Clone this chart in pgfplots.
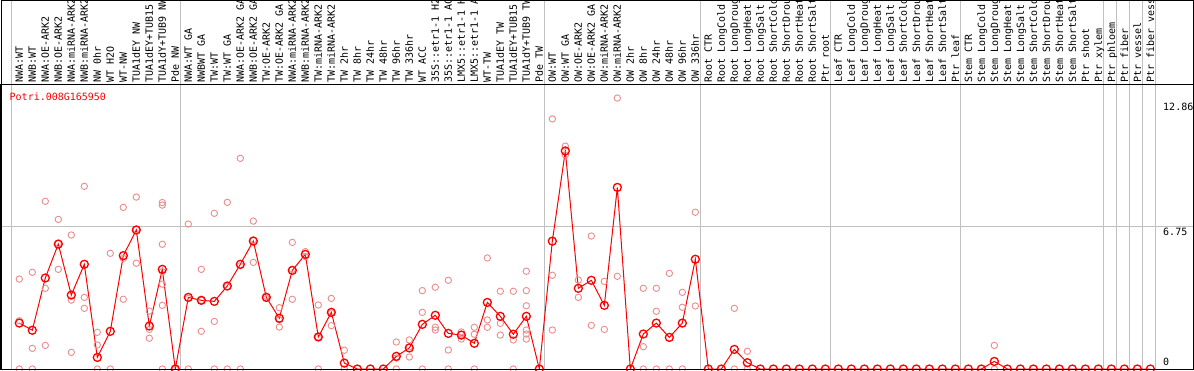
\documentclass[border=0pt]{standalone}
\usepackage{fontspec}
\usepackage{pgfplots}
\pgfplotsset{compat=1.18}
\newfontfamily\mono{DejaVu Sans Mono}
\definecolor{sepgray}{RGB}{192,192,192}
\definecolor{repc}{RGB}{234,140,140}
\definecolor{meanc}{RGB}{255,0,0}
\begin{document}
\begin{tikzpicture}[x=1pt,y=1pt]
\useasboundingbox (0,0) rectangle (1194,370);
% group separators (decorative, full height)
\foreach \k in {-1,12,40,52,62,72,83,84,85,86,87}{
  \draw[sepgray, line width=1pt] ({19.3+13.0*(\k+0.41)},1) -- ({19.3+13.0*(\k+0.41)},370);
}
\begin{axis}[
  at={(1pt,1pt)}, anchor=south west,
  width=1192pt, height=284pt, scale only axis,
  xmin=-1.408, xmax=90.28, ymin=0, ymax=13.48,
  axis line style={black, line width=1pt},
  xtick={0,...,87},
  xticklabel pos=upper,
  major tick length=0pt,
  xticklabels={{NWA:WT},{NWB:WT},{NWA:OE-ARK2},{NWB:OE-ARK2},{NWA:miRNA-ARK2},{NWB:miRNA-ARK2},{NW 0hr},{WT H2O},{WT-NW},{TUA1dEY NW},{TUA1dEY+TUB15},{TUA1dY+TUB9 NW},{Pde NW},
    {NWA:WT GA},{NWBWT GA},{TW:WT},{TW:WT GA},{NWA:OE-ARK2 GA},{NWB:OE-ARK2 GA},{TW:OE-ARK2},{TW:OE-ARK2 GA},{NWA:miRNA-ARK2},{NWB:miRNA-ARK2},{TW:miRNA-ARK2},{TW:miRNA-ARK2},{TW 2hr},{TW 8hr},{TW 24hr},{TW 48hr},{TW 96hr},{TW 336hr},{WT ACC},{35S::etr1-1 H2},{35S::etr1-1 AC},{LMX5::etr1-1 H},{LMX5::etr1-1 A},{WT-TW},{TUA1dEY TW},{TUA1dEY+TUB15},{TUA1dY+TUB9 TW},{Pde TW},
    {OW:WT},{OW:WT GA},{OW:OE-ARK2},{OW:OE-ARK2 GA},{OW:miRNA-ARK2},{OW:miRNA-ARK2},{OW 2hr},{OW 8hr},{OW 24hr},{OW 48hr},{OW 96hr},{OW 336hr},
    {Root CTR},{Root LongCold},{Root LongDroug},{Root LongHeat},{Root LongSalt},{Root ShortCold},{Root ShortDrou},{Root ShortHeat},{Root ShortSalt},{Ptr root},
    {Leaf CTR},{Leaf LongCold},{Leaf LongDroug},{Leaf LongHeat},{Leaf LongSalt},{Leaf ShortCold},{Leaf ShortDrou},{Leaf ShortHeat},{Leaf ShortSalt},{Ptr leaf},
    {Stem CTR},{Stem LongCold},{Stem LongDroug},{Stem LongHeat},{Stem LongSalt},{Stem ShortCold},{Stem ShortDrou},{Stem ShortHeat},{Stem ShortSalt},{Ptr shoot},
    {Ptr xylem},{Ptr phloem},{Ptr fiber},{Ptr vessel},{Ptr fiber vess}},
  xticklabel style={font=\mono\fontsize{10}{12}\selectfont, rotate=90, anchor=west, inner sep=0pt, text height=7.3pt, text depth=0pt, xshift=2pt},
  ytick={6.75}, yticklabels={},
  ymajorgrids, grid style={sepgray, line width=1pt},
]
\addplot[only marks, mark=o, mark size=3.2pt, color=repc, line width=0.9pt] table {
x y
0 4.27
0 2.29
0 0
1 4.59
1 0.98
1 0
2 7.96
2 3.83
2 1.12
3 7.10
3 4.73
3 5.96
4 6.36
4 3.27
4 0.79
5 8.67
5 3.40
5 2.88
6 1.74
6 1.14
6 0
7 5.49
7 0
8 7.67
8 5.25
8 3.31
9 8.16
9 5.02
9 6.62
10 2.75
10 1.88
10 1.46
11 7.90
11 7.78
11 5.92
11 4.62
11 4.03
11 3.02
11 0
12 0
13 6.88
13 3.35
13 0
14 4.73
14 1.79
14 3.26
15 7.39
15 2.26
15 0
16 7.91
16 3.91
16 0
17 10.00
17 4.90
17 0
18 7.02
18 5.06
18 6.13
19 3.45
19 3.35
20 2.91
20 1.99
20 2.33
21 6.01
21 3.31
21 4.72
22 5.57
22 5.33
23 3.04
23 0
23 1.52
24 3.35
24 2.06
24 2.66
25 0.89
25 0
29 1.28
29 0
29 0.52
30 1.38
30 0.57
30 1.05
31 3.72
31 2.69
31 0
32 3.88
32 1.98
32 1.85
33 4.21
33 0.90
33 0
34 1.76
34 1.42
34 1.65
35 1.98
35 1.65
35 0
36 5.27
36 2.33
36 1.98
37 3.69
37 2.17
37 1.61
38 3.69
38 1.38
38 0
39 4.64
39 3.72
39 3.00
39 1.85
39 1.66
39 1.42
41 11.87
41 4.45
41 1.85
42 10.58
42 10.16
43 4.22
43 3.40
44 6.31
44 2.07
45 4.16
45 1.88
46 12.86
46 4.40
48 3.83
48 1.06
48 0
49 3.83
49 2.74
49 0
50 4.54
50 0
51 3.64
51 2.93
51 0
52 7.44
52 2.99
55 2.88
55 0
56 0.84
56 0
75 1.12
75 0
};
\addplot[color=meanc, line width=1pt, mark=o, mark size=4pt, mark options={line width=1.3pt, fill=none}] table {
x y
0 2.18
1 1.84
2 4.32
3 5.93
4 3.51
5 4.97
6 0.55
7 1.79
8 5.38
9 6.60
10 2.04
11 4.73
12 0
13 3.40
14 3.26
15 3.21
16 3.94
17 4.97
18 6.07
19 3.40
20 2.41
21 4.68
22 5.44
23 1.52
24 2.69
25 0.28
26 0
27 0
28 0
29 0.60
30 1.00
31 2.12
32 2.55
33 1.69
34 1.61
35 1.22
36 3.16
37 2.50
38 1.65
39 2.50
40 0
41 6.07
42 10.35
43 3.83
44 4.21
45 3.02
46 8.62
47 0
48 1.66
49 2.18
50 1.50
51 2.18
52 5.21
53 0
54 0
55 0.93
56 0.30
57 0
58 0
59 0
60 0
61 0
62 0
63 0
64 0
65 0
66 0
67 0
68 0
69 0
70 0
71 0
72 0
73 0
74 0
75 0.36
76 0
77 0
78 0
79 0
80 0
81 0
82 0
83 0
84 0
85 0
86 0
87 0
};
\end{axis}
% outer frame
\draw[black, line width=1pt] (1,1) rectangle (1193,369.5);
% texts
\tikzset{lbl/.style={anchor=west, inner sep=0pt, text height=7.3pt, text depth=0pt, font=\mono\fontsize{10}{12}\selectfont}}
\node[lbl, text=meanc] at (9.5,273) {Potri.008G165950};
\node[lbl] at (1163,263) {12.86};
\node[lbl] at (1163,138) {6.75};
\node[lbl] at (1163,8) {0};
\end{tikzpicture}
\end{document}
